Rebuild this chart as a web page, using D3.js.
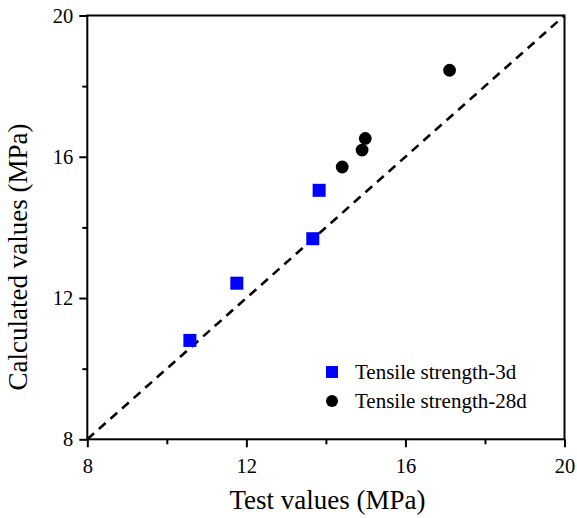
<!DOCTYPE html>
<html><head><meta charset="utf-8">
<script src="https://cdn.jsdelivr.net/npm/d3@7"></script>
<style>body{margin:0;background:#fff}</style>
</head><body>
<svg id="c" width="577" height="518"></svg>
<script>
const series3dX = [10.58, 11.76, 13.67, 13.83];
const series3dY = [10.80, 12.42, 13.68, 15.05];
const series28dX = [14.41, 14.91, 14.99, 17.11];
const series28dY = [15.71, 16.19, 16.52, 18.45];
const majorTicks = [8, 12, 16, 20];
const minorTicks = [10, 14, 18];
const legendLabels = ["Tensile strength-3d", "Tensile strength-28d"];

const svg = d3.select("#c");
const L = 87.3, R = 564.5, T = 15.5, B = 439.3;
const x = d3.scaleLinear().domain([8, 20]).range([L, R]);
const y = d3.scaleLinear().domain([8, 20]).range([B, T]);
const font = "'Liberation Serif','Times New Roman',serif";

// dashed diagonal
svg.append("line").attr("x1", x(8)).attr("y1", y(8)).attr("x2", x(20)).attr("y2", y(20))
  .attr("stroke", "#000").attr("stroke-width", 2.6).attr("stroke-dasharray", "9,6.5");

// frame
svg.append("rect").attr("x", L).attr("y", T).attr("width", R - L).attr("height", B - T)
  .attr("fill", "none").attr("stroke", "#000").attr("stroke-width", 2);

// axes
const xa = svg.append("g").attr("transform", `translate(0,${B})`)
  .call(d3.axisBottom(x).tickValues(majorTicks).tickSize(8).tickPadding(11.5).tickFormat(d3.format("d")));
const xm = svg.append("g").attr("transform", `translate(0,${B})`)
  .call(d3.axisBottom(x).tickValues(minorTicks).tickSize(5).tickFormat(""));
const ya = svg.append("g").attr("transform", `translate(${L},0)`)
  .call(d3.axisLeft(y).tickValues(majorTicks).tickSize(8).tickPadding(6).tickFormat(d3.format("d")));
const ym = svg.append("g").attr("transform", `translate(${L},0)`)
  .call(d3.axisLeft(y).tickValues(minorTicks).tickSize(5).tickFormat(""));
[xa, xm, ya, ym].forEach(g => {
  g.attr("font-family", font);
  g.select(".domain").remove();
  g.selectAll("line").attr("stroke", "#000").attr("stroke-width", 2);
  g.selectAll("text").attr("font-family", font).attr("font-size", 20.5).attr("fill", "#000");
});

// points
svg.append("g").selectAll("rect").data(series3dX).join("rect")
  .attr("x", (d, i) => x(d) - 6.5).attr("y", (d, i) => y(series3dY[i]) - 6.5)
  .attr("width", 13).attr("height", 13).attr("fill", "#0000ff");
svg.append("g").selectAll("circle").data(series28dX).join("circle")
  .attr("cx", d => x(d)).attr("cy", (d, i) => y(series28dY[i])).attr("r", 6.4).attr("fill", "#000");

// legend
const lg = svg.append("g");
lg.append("rect").attr("x", 326).attr("y", 366).attr("width", 12).attr("height", 12).attr("fill", "#0000ff");
lg.append("circle").attr("cx", 332).attr("cy", 401).attr("r", 6).attr("fill", "#000");
lg.selectAll("text").data(legendLabels).join("text")
  .attr("x", 355).attr("y", (d, i) => 379 + i * 29)
  .attr("font-family", font).attr("font-size", 21).attr("fill", "#000").text(d => d);

// titles
svg.append("text").attr("x", 327.5).attr("y", 509).attr("text-anchor", "middle")
  .attr("font-family", font).attr("font-size", 27).text("Test values (MPa)");
svg.append("text").attr("transform", `translate(27,257) rotate(-90)`).attr("text-anchor", "middle")
  .attr("font-family", font).attr("font-size", 27).text("Calculated values (MPa)");
</script>
</body></html>
